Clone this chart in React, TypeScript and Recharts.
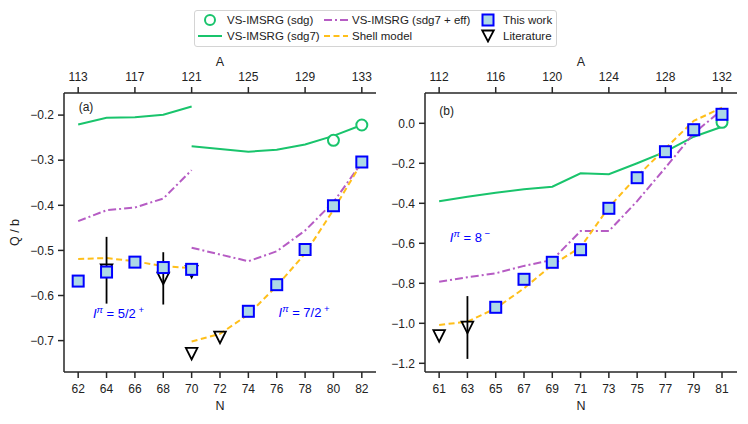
import { ComposedChart, Line, ReferenceDot, Scatter, XAxis, YAxis } from 'recharts';

// panel (a): N = 62..70 (I = 5/2+) and N = 70..82 (I = 7/2+)
const nLowA = [62, 64, 66, 68, 70];
const nHighA = [70, 72, 74, 76, 78, 80, 82];
const sdg7LowA = [-0.221, -0.206, -0.205, -0.199, -0.181];
const sdg7HighA = [-0.269, -0.275, -0.281, -0.277, -0.265, -0.246, -0.222];
const effLowA = [-0.435, -0.411, -0.405, -0.385, -0.322];
const effHighA = [-0.494, -0.509, -0.524, -0.502, -0.456, -0.393, -0.305];
const shellLowA = [-0.519, -0.517, -0.524, -0.535, -0.539];
const shellHighA = [-0.702, -0.685, -0.642, -0.579, -0.507, -0.41, -0.305];
const sdgN_A = [80, 82];
const sdgA = [-0.256, -0.222];
const workN_A = [62, 64, 66, 68, 70, 74, 76, 78, 80, 82];
const workA = [-0.568, -0.548, -0.526, -0.538, -0.542, -0.635, -0.576, -0.498, -0.401, -0.304];
const litN_A = [64, 68, 70, 70, 72];
const litA = [-0.544, -0.562, -0.547, -0.729, -0.693];
const litErrA = [0.074, 0.058, 0, 0, 0];

// panel (b): I = 8-
const nB = [61, 63, 65, 67, 69, 71, 73, 75, 77, 79, 81];
const sdg7B = [-0.39, -0.367, -0.347, -0.33, -0.317, -0.25, -0.255, -0.2, -0.142, -0.067, -0.017];
const effB = [-0.792, -0.77, -0.75, -0.713, -0.683, -0.539, -0.539, -0.389, -0.222, -0.05, 0.067];
const shellB = [-1.008, -0.992, -0.925, -0.825, -0.708, -0.62, -0.42, -0.265, -0.125, 0.012, 0.078];
const sdgN_B = [81];
const sdgB = [0.005];
const workN_B = [65, 67, 69, 71, 73, 75, 77, 79, 81];
const workB = [-0.92, -0.78, -0.695, -0.632, -0.425, -0.272, -0.142, -0.032, 0.045];
const litN_B = [61, 63];
const litB = [-1.063, -1.021];
const litErrB = [0, 0.157];

// ticks
const nTicksA = [62, 64, 66, 68, 70, 72, 74, 76, 78, 80, 82];
const aTicksA = [62, 66, 70, 74, 78, 82]; // A = N + 51
const yTicksA = [-0.7, -0.6, -0.5, -0.4, -0.3, -0.2];
const nTicksB = [61, 63, 65, 67, 69, 71, 73, 75, 77, 79, 81];
const aTicksB = [61, 65, 69, 73, 77, 81];
const yTicksB = [-1.2, -1.0, -0.8, -0.6, -0.4, -0.2, 0];

const zip = (xs: number[], ys: number[]) => xs.map((x, i) => ({ x, y: ys[i] }));
// vertical error segments for the literature points
const errSegs = (xs: number[], ys: number[], es: number[]) =>
  xs
    .map((x, i) => ({ x, y: ys[i], e: es[i] }))
    .filter((d) => d.e > 0)
    .map((d) => [
      { x: d.x, y: d.y - d.e },
      { x: d.x, y: d.y + d.e },
    ]);

const GREEN = '#19c46c';
const PURPLE = '#b65cc4';
const ORANGE = '#ffbf1a';
const BLUE = '#0000ff';
const AXIS = '#262626';
const FONT = '"Liberation Sans", Arial, sans-serif';

const fmtY = (v: number) => (v < 0 ? '\u2212' : '') + Math.abs(v).toFixed(1);

const Square = (p: any) => (
  <rect x={p.cx - 5.5} y={p.cy - 5.5} width={11} height={11} fill="#add8e6" stroke={BLUE} strokeWidth={2} />
);
const Tri = (p: any) => (
  <path d={`M${p.cx - 5.8},${p.cy - 5.8} L${p.cx + 5.8},${p.cy - 5.8} L${p.cx},${p.cy + 5.8} Z`} fill="none" stroke="#000" strokeWidth={1.8} />
);
const Ring = (p: any) => <circle cx={p.cx} cy={p.cy} r={5.5} fill="#fff" stroke={GREEN} strokeWidth={2} />;

const Spin = ({ viewBox, val, sup }: any) => {
  const cx = viewBox.x + viewBox.width / 2;
  const cy = viewBox.y + viewBox.height / 2;
  return (
    <text x={cx} y={cy + 4.5} textAnchor="middle" fill={BLUE} fontSize={13} fontFamily={FONT}>
      <tspan fontStyle="italic">I</tspan>
      <tspan fontStyle="italic" fontSize={9.5} dy={-5}>π</tspan>
      <tspan dy={5}>{` = ${val}`}</tspan>
      <tspan fontSize={9.5} dy={-5}>{` ${sup}`}</tspan>
    </text>
  );
};
const Tag = ({ viewBox, text }: any) => (
  <text x={viewBox.x + viewBox.width / 2} y={viewBox.y + viewBox.height / 2 + 4.3} textAnchor="middle" fill="#222" fontSize={12} fontFamily={FONT}>
    {text}
  </text>
);

const tickStyle = { fontSize: 12, fill: '#222', fontFamily: FONT };
const lineStyle = { stroke: AXIS, strokeWidth: 1.5 };

type PanelProps = {
  left: number;
  width: number;
  margin: { top: number; right: number; bottom: number; left: number };
  yWidth: number;
  xDomain: [number, number];
  yDomain: [number, number];
  nTicks: number[];
  aTicks: number[];
  yTicks: number[];
  showYLabel: boolean;
  children: any;
};

function Panel(p: PanelProps) {
  return (
    <div style={{ position: 'absolute', left: p.left, top: 0 }}>
      <ComposedChart width={p.width} height={424} margin={p.margin}>
        <XAxis
          dataKey="x"
          type="number"
          domain={p.xDomain}
          allowDataOverflow
          ticks={p.nTicks}
          tick={tickStyle}
          tickSize={6}
          tickMargin={6}
          axisLine={lineStyle}
          tickLine={lineStyle}
          height={30}
          label={(l: any) => (
            <text x={l.viewBox.x + l.viewBox.width / 2} y={l.viewBox.y + 38} textAnchor="middle" fontSize={12.5} fill="#222" fontFamily={FONT}>N</text>
          )}
        />
        <XAxis
          xAxisId="top"
          dataKey="x"
          orientation="top"
          type="number"
          domain={p.xDomain}
          allowDataOverflow
          ticks={p.aTicks}
          tickFormatter={(v: number) => String(v + 51)}
          tick={tickStyle}
          tickSize={6}
          tickMargin={6}
          axisLine={lineStyle}
          tickLine={lineStyle}
          height={30}
          label={(l: any) => (
            <text x={l.viewBox.x + l.viewBox.width / 2} y={l.viewBox.y + 3} textAnchor="middle" fontSize={12.5} fill="#222" fontFamily={FONT}>A</text>
          )}
        />
        <YAxis
          dataKey="y"
          type="number"
          domain={p.yDomain}
          allowDataOverflow
          ticks={p.yTicks}
          tickFormatter={fmtY}
          tick={tickStyle}
          tickSize={6}
          tickMargin={4}
          axisLine={lineStyle}
          tickLine={lineStyle}
          width={p.yWidth}
          label={
            p.showYLabel
              ? (l: any) => (
                  <text
                    x={15}
                    y={l.viewBox.y + l.viewBox.height / 2}
                    transform={`rotate(-90, 15, ${l.viewBox.y + l.viewBox.height / 2})`}
                    textAnchor="middle"
                    dominantBaseline="central"
                    fontSize={12.5}
                    fill="#222"
                    fontFamily={FONT}
                  >
                    Q / b
                  </text>
                )
              : undefined
          }
        />
        <YAxis yAxisId="r" dataKey="y" orientation="right" type="number" domain={[0, 1]} allowDataOverflow width={0} tick={false} tickLine={false} axisLine={lineStyle} />
        {/* invisible series so the top axis and the right frame edge get drawn */}
        <Line
          xAxisId="top"
          yAxisId="r"
          data={[
            { x: p.xDomain[0], y: 0 },
            { x: p.xDomain[1], y: 1 },
          ]}
          dataKey="y"
          stroke="none"
          dot={false}
          activeDot={false}
          legendType="none"
          isAnimationActive={false}
        />
        {p.children}
      </ComposedChart>
    </div>
  );
}

const solid = (data: any[], key: string) => (
  <Line key={key} data={data} dataKey="y" stroke={GREEN} strokeWidth={2} dot={false} activeDot={false} isAnimationActive={false} />
);
const dashDot = (data: any[], key: string) => (
  <Line key={key} data={data} dataKey="y" stroke={PURPLE} strokeWidth={2} strokeDasharray="8 3 2 3" dot={false} activeDot={false} isAnimationActive={false} />
);
const dashed = (data: any[], key: string) => (
  <Line key={key} data={data} dataKey="y" stroke={ORANGE} strokeWidth={2} strokeDasharray="6 3.5" dot={false} activeDot={false} isAnimationActive={false} />
);
const errLines = (segs: any[][], key: string) =>
  segs.map((s, i) => (
    <Line key={`${key}${i}`} data={s} dataKey="y" stroke="#000" strokeWidth={1.8} dot={false} activeDot={false} isAnimationActive={false} />
  ));

function LegendBox() {
  const text = { position: 'absolute' as const, fontSize: 11.5, color: '#222', lineHeight: '14px', whiteSpace: 'nowrap' as const };
  const h = (left: number, top: number, el: any) => (
    <svg style={{ position: 'absolute', left, top }} width={24} height={14}>{el}</svg>
  );
  return (
    <div style={{ position: 'absolute', left: 194, top: 10, width: 363, height: 37, border: '1px solid #d4d4d4', borderRadius: 3, boxSizing: 'border-box', background: '#fff' }}>
      {h(3, 2, <circle cx={12} cy={7} r={5} fill="#fff" stroke={GREEN} strokeWidth={2} />)}
      <div style={{ ...text, left: 32, top: 2 }}>VS-IMSRG (sdg)</div>
      {h(3, 18, <line x1={0} x2={24} y1={7} y2={7} stroke={GREEN} strokeWidth={2} />)}
      <div style={{ ...text, left: 32, top: 18 }}>VS-IMSRG (sdg7)</div>
      {h(129, 2, <line x1={0} x2={24} y1={7} y2={7} stroke={PURPLE} strokeWidth={2} strokeDasharray="8 3 2 3" />)}
      <div style={{ ...text, left: 157, top: 2 }}>VS-IMSRG (sdg7 + eff)</div>
      {h(129, 18, <line x1={0} x2={24} y1={7} y2={7} stroke={ORANGE} strokeWidth={2} strokeDasharray="6 3.5" />)}
      <div style={{ ...text, left: 157, top: 18 }}>Shell model</div>
      {h(281, 2, <rect x={6.5} y={1.5} width={11} height={11} fill="#add8e6" stroke={BLUE} strokeWidth={2} />)}
      <div style={{ ...text, left: 308, top: 2 }}>This work</div>
      {h(281, 18, <path d="M6.2,1.5 L17.8,1.5 L12,12.5 Z" fill="none" stroke="#000" strokeWidth={1.8} />)}
      <div style={{ ...text, left: 308, top: 18 }}>Literature</div>
    </div>
  );
}

export default function App() {
  return (
    <div style={{ position: 'absolute', left: 0, top: 0, width: 748, height: 424, background: '#fff', fontFamily: FONT }}>
      <Panel
        left={0}
        width={390}
        margin={{ top: 63, right: 14, bottom: 22, left: 14 }}
        yWidth={50}
        xDomain={[61, 83]}
        yDomain={[-0.7696, -0.151]}
        nTicks={nTicksA}
        aTicks={aTicksA}
        yTicks={yTicksA}
        showYLabel
      >
        {solid(zip(nLowA, sdg7LowA), 'g1')}
        {solid(zip(nHighA, sdg7HighA), 'g2')}
        {dashDot(zip(nLowA, effLowA), 'p1')}
        {dashDot(zip(nHighA, effHighA), 'p2')}
        {dashed(zip(nLowA, shellLowA), 'o1')}
        {dashed(zip(nHighA, shellHighA), 'o2')}
        {errLines(errSegs(litN_A, litA, litErrA), 'ea')}
        <Scatter data={zip(sdgN_A, sdgA)} dataKey="y" shape={Ring} isAnimationActive={false} />
        <Scatter data={zip(litN_A, litA)} dataKey="y" shape={Tri} isAnimationActive={false} />
        <Scatter data={zip(workN_A, workA)} dataKey="y" shape={Square} isAnimationActive={false} />
        <ReferenceDot x={62.55} y={-0.182} r={1} fillOpacity={0} stroke="none" label={(l: any) => <Tag viewBox={l.viewBox} text="(a)" />} />
        <ReferenceDot x={64.84} y={-0.641} r={1} fillOpacity={0} stroke="none" label={(l: any) => <Spin viewBox={l.viewBox} val="5/2" sup="+" />} />
        <ReferenceDot x={77.93} y={-0.637} r={1} fillOpacity={0} stroke="none" label={(l: any) => <Spin viewBox={l.viewBox} val="7/2" sup="+" />} />
      </Panel>
      <Panel
        left={380}
        width={368}
        margin={{ top: 63, right: 11, bottom: 22, left: 5 }}
        yWidth={40}
        xDomain={[60, 82.06]}
        yDomain={[-1.2435, 0.1515]}
        nTicks={nTicksB}
        aTicks={aTicksB}
        yTicks={yTicksB}
        showYLabel={false}
      >
        {solid(zip(nB, sdg7B), 'g')}
        {dashDot(zip(nB, effB), 'p')}
        {dashed(zip(nB, shellB), 'o')}
        {errLines(errSegs(litN_B, litB, litErrB), 'eb')}
        <Scatter data={zip(sdgN_B, sdgB)} dataKey="y" shape={Ring} isAnimationActive={false} />
        <Scatter data={zip(litN_B, litB)} dataKey="y" shape={Tri} isAnimationActive={false} />
        <Scatter data={zip(workN_B, workB)} dataKey="y" shape={Square} isAnimationActive={false} />
        <ReferenceDot x={61.53} y={0.063} r={1} fillOpacity={0} stroke="none" label={(l: any) => <Tag viewBox={l.viewBox} text="(b)" />} />
        <ReferenceDot x={63.18} y={-0.572} r={1} fillOpacity={0} stroke="none" label={(l: any) => <Spin viewBox={l.viewBox} val="8" sup={'\u2212'} />} />
      </Panel>
      <LegendBox />
    </div>
  );
}
